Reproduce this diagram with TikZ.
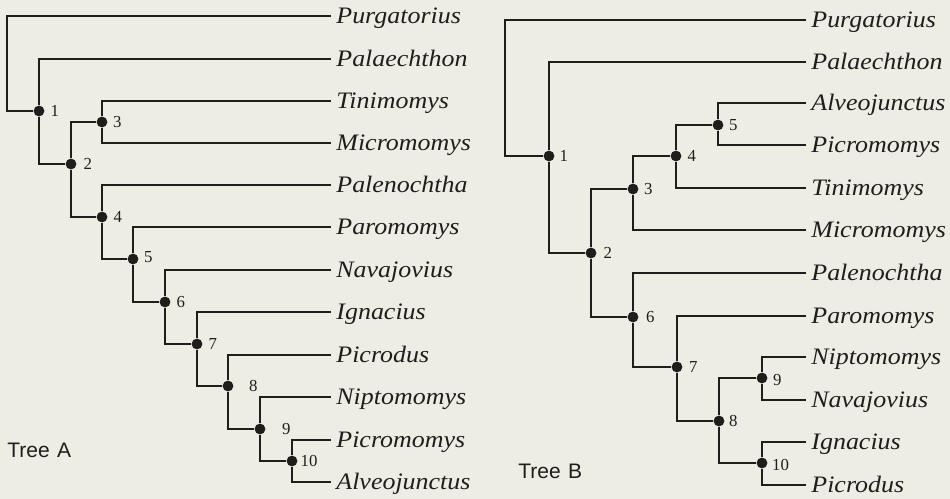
\documentclass[tikz,border=0pt]{standalone}
\usepackage{fontspec}
\setmainfont{Liberation Serif}
\newfontfamily\taxonfont[FakeStretch=1.1]{Liberation Serif}
\newfontfamily\treefont{Liberation Sans}
\usetikzlibrary{positioning}
\definecolor{paper}{HTML}{EDEDE3}
\definecolor{treeink}{HTML}{1E1E1C}

\begin{document}
\begin{tikzpicture}[
  x=0.5pt,
  y=-0.5pt,
  branch/.style={treeink, line width=0.75pt},
  split/.style={circle, fill=treeink, inner sep=0pt, minimum size=5.4pt},
  taxon/.style={anchor=west, inner sep=0pt, inner xsep=2.5pt,
    text height=8.8pt, text depth=1.2pt, text=treeink,
    font=\taxonfont\itshape\fontsize{11.8}{14}\selectfont},
  num/.style={inner sep=0pt, text=treeink, font=\fontsize{8.4}{10}\selectfont},
  treename/.style={anchor=west, inner sep=0pt, text=treeink,
    font=\treefont\fontsize{10.5}{12}\selectfont}
]
  \fill[paper] (0,0) rectangle (950,499);
  \useasboundingbox (0,0) rectangle (950,499);

  % Tree A
  \node[taxon] (aPurg) at (331,16) {Purgatorius};
  \node[taxon] (aPala) at (331,59) {Palaechthon};
  \node[taxon] (aTini) at (331,101) {Tinimomys};
  \node[taxon] (aMicro) at (331,143) {Micromomys};
  \node[taxon] (aPalen) at (331,185) {Palenochtha};
  \node[taxon] (aParo) at (331,227) {Paromomys};
  \node[taxon] (aNava) at (331,270) {Navajovius};
  \node[taxon] (aIgn) at (331,312) {Ignacius};
  \node[taxon] (aPicrod) at (331,355) {Picrodus};
  \node[taxon] (aNipt) at (331,397) {Niptomomys};
  \node[taxon] (aPicrom) at (331,440) {Picromomys};
  \node[taxon] (aAlveo) at (331,482) {Alveojunctus};

  \coordinate (a0) at (7,111);
  \node[split] (a1) at (39,111) {};
  \node[split] (a2) at (71,164) {};
  \node[split] (a3) at (102,122) {};
  \node[split] (a4) at (102,217) {};
  \node[split] (a5) at (133,259) {};
  \node[split] (a6) at (165,302) {};
  \node[split] (a7) at (197,344) {};
  \node[split] (a8) at (228,386) {};
  \node[split] (a9) at (260,429) {};
  \node[split] (a10) at (292,461) {};

  \draw[branch] (aPurg.west) -| (a0) -- (a1);
  \draw[branch] (aPala.west) -| (a1) |- (a2);
  \draw[branch] (a3) -| (a2) |- (a4);
  \draw[branch] (aTini.west) -| (a3) |- (aMicro.west);
  \draw[branch] (aPalen.west) -| (a4) |- (a5);
  \draw[branch] (aParo.west) -| (a5) |- (a6);
  \draw[branch] (aNava.west) -| (a6) |- (a7);
  \draw[branch] (aIgn.west) -| (a7) |- (a8);
  \draw[branch] (aPicrod.west) -| (a8) |- (a9);
  \draw[branch] (aNipt.west) -| (a9) |- (a10);
  \draw[branch] (aPicrom.west) -| (a10) |- (aAlveo.west);

  \node[num, right=2.7pt of a1] (a1n) {1};
  \node[num, right=3.2pt of a2] (a2n) {2};
  \node[num, right=2.5pt of a3] (a3n) {3};
  \node[num, right=2.7pt of a4] (a4n) {4};
  \node[num, right=2.5pt of a5, yshift=1pt] (a5n) {5};
  \node[num, right=2.7pt of a6] (a6n) {6};
  \node[num, right=2.7pt of a7] (a7n) {7};
  \node[num, right=7.5pt of a8] (a8n) {8};
  \node[num, right=7.9pt of a9] (a9n) {9};
  \node[num, right=1.2pt of a10] (a10n) {10};

  \node[treename] (treeA) at (7,450) {Tree\hspace{0.35em}A};

  % Tree B
  \node[taxon] (bPurg) at (806,20) {Purgatorius};
  \node[taxon] (bPala) at (806,62) {Palaechthon};
  \node[taxon] (bAlveo) at (806,103) {Alveojunctus};
  \node[taxon] (bPicrom) at (806,145) {Picromomys};
  \node[taxon] (bTini) at (806,188) {Tinimomys};
  \node[taxon] (bMicro) at (806,230) {Micromomys};
  \node[taxon] (bPalen) at (806,273) {Palenochtha};
  \node[taxon] (bParo) at (806,316) {Paromomys};
  \node[taxon] (bNipt) at (806,357) {Niptomomys};
  \node[taxon] (bNava) at (806,400) {Navajovius};
  \node[taxon] (bIgn) at (806,442) {Ignacius};
  \node[taxon] (bPicrod) at (806,485) {Picrodus};

  \coordinate (b0) at (505,156);
  \node[split] (b1) at (549,156) {};
  \node[split] (b2) at (591,253) {};
  \node[split] (b3) at (633,189) {};
  \node[split] (b4) at (676,156) {};
  \node[split] (b5) at (718,125) {};
  \node[split] (b6) at (633,317) {};
  \node[split] (b7) at (677,367) {};
  \node[split] (b8) at (719,421) {};
  \node[split] (b9) at (762,378) {};
  \node[split] (b10) at (762,463) {};

  \draw[branch] (bPurg.west) -| (b0) -- (b1);
  \draw[branch] (bPala.west) -| (b1) |- (b2);
  \draw[branch] (b3) -| (b2) |- (b6);
  \draw[branch] (b4) -| (b3) |- (bMicro.west);
  \draw[branch] (b5) -| (b4) |- (bTini.west);
  \draw[branch] (bAlveo.west) -| (b5) |- (bPicrom.west);
  \draw[branch] (bPalen.west) -| (b6) |- (b7);
  \draw[branch] (bParo.west) -| (b7) |- (b8);
  \draw[branch] (b9) -| (b8) |- (b10);
  \draw[branch] (bNipt.west) -| (b9) |- (bNava.west);
  \draw[branch] (bIgn.west) -| (b10) |- (bPicrod.west);

  \node[num, right=2.2pt of b1] (b1n) {1};
  \node[num, right=3.2pt of b2] (b2n) {2};
  \node[num, right=2.5pt of b3] (b3n) {3};
  \node[num, right=2.7pt of b4] (b4n) {4};
  \node[num, right=2.5pt of b5] (b5n) {5};
  \node[num, right=3.4pt of b6] (b6n) {6};
  \node[num, right=2.9pt of b7] (b7n) {7};
  \node[num, right=2pt of b8] (b8n) {8};
  \node[num, right=2.5pt of b9, yshift=-1pt] (b9n) {9};
  \node[num, right=2pt of b10, yshift=-1pt] (b10n) {10};

  \node[treename] (treeB) at (518,471) {Tree\hspace{0.35em}B};
\end{tikzpicture}
\end{document}
